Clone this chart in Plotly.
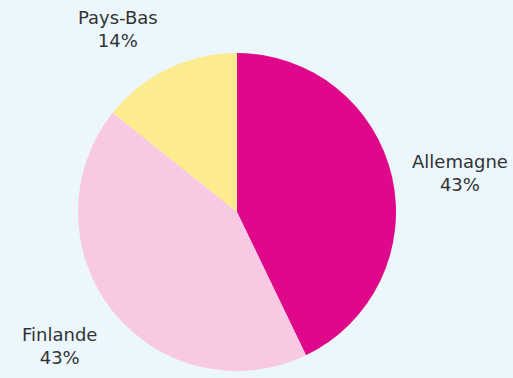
import math
import plotly.graph_objects as go

labels = ["Allemagne", "Finlande", "Pays-Bas"]
values = [3, 3, 1]
colors = ["#E0088A", "#F9C9E3", "#FDEC8F"]

W, H = 513, 378
cx, cy, r = 237, 212, 159
label_gap = 18
font_size = 18

fig = go.Figure(go.Pie(
    labels=labels,
    values=values,
    sort=False,
    direction="clockwise",
    rotation=0,
    marker=dict(colors=colors, line=dict(width=0)),
    textinfo="none",
    hoverinfo="label+percent",
    showlegend=False,
    domain=dict(x=[(cx - r) / W, (cx + r) / W], y=[1 - (cy + r) / H, 1 - (cy - r) / H]),
))

total = sum(values)
cum = 0
for lab, v in zip(labels, values):
    mid = (cum + v / 2) / total * 2 * math.pi
    cum += v
    s, c = math.sin(mid), math.cos(mid)
    R = r + label_gap
    px = cx + R * s
    py = cy - R * c
    xanchor = "left" if s > 0.3 else ("right" if s < -0.3 else "center")
    yanchor = "bottom" if c > 0.5 else ("top" if c < -0.5 else "middle")
    pct = round(v / total * 100)
    fig.add_annotation(
        x=px / W, y=1 - py / H, xref="paper", yref="paper",
        text=f"{lab}<br>{pct}%", showarrow=False,
        xanchor=xanchor, yanchor=yanchor, align="center",
        font=dict(family="DejaVu Sans", size=font_size, color="#333333"),
    )

fig.update_layout(
    width=W, height=H,
    margin=dict(l=0, r=0, t=0, b=0),
    paper_bgcolor="#EBF7FC",
    plot_bgcolor="#EBF7FC",
    font=dict(family="DejaVu Sans", color="#333333"),
)

fig.write_html("out.html", config={"displayModeBar": False},
               post_script="document.body.style.margin='0';")
